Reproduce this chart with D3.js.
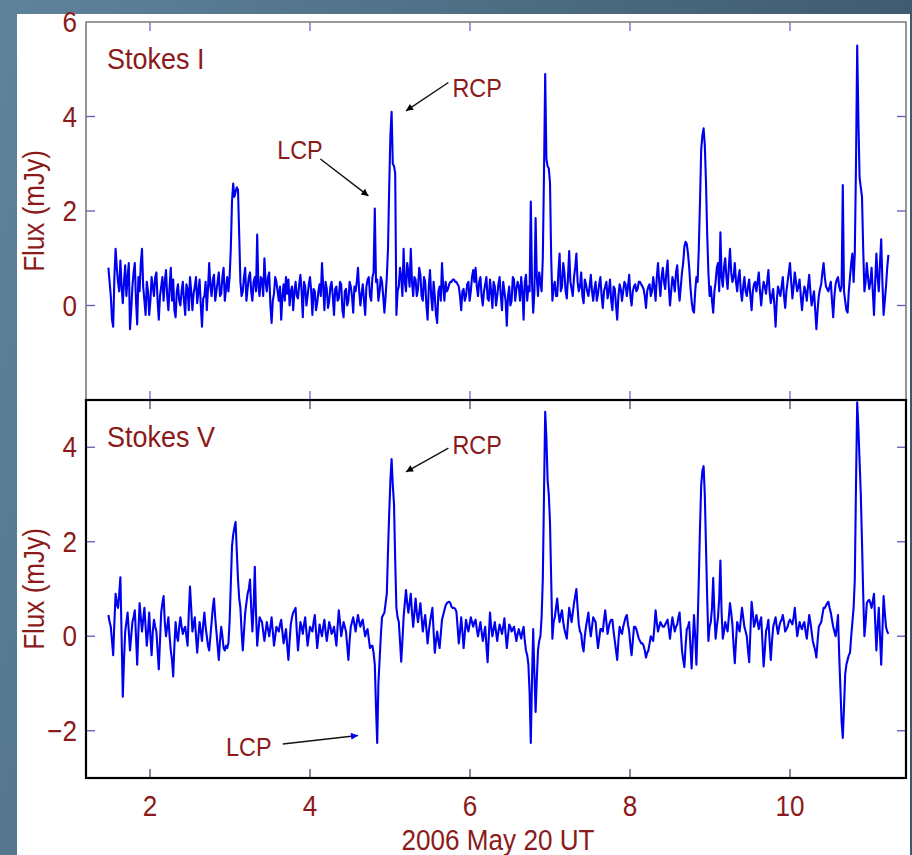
<!DOCTYPE html>
<html><head><meta charset="utf-8">
<script src="https://cdn.jsdelivr.net/npm/d3@7"></script>
<style>html,body{margin:0;padding:0;background:#4a6a82;}svg{display:block;}</style>
</head><body>
<svg id="chart" width="912" height="855"></svg>
<script>
// Sampling cadence of the light curves (hours UT): main samples at start + i*step,
// interleaved samples at start + step/2 + j*step
const sampleStart = 1.48;
const sampleStep = 0.03;

// Stokes I flux (mJy), main samples
const stokesI = [
0.8,0.2,-0.45,1.2,0.5,0.95,0.05,0.85,0.6,-0.5,
0.4,0.9,-0.4,0.3,1.2,0.1,0.5,-0.2,0.6,0.2,
0.7,-0.3,0.4,0.1,0.75,-0.1,0.8,0.55,-0.25,0.45,
0.0,0.5,-0.2,0.35,0.6,-0.1,0.4,0.05,0.55,-0.45,
0.2,-0.1,0.9,0.2,0.65,0.3,0.7,0.25,0.8,0.35,
0.3,1.2,2.58,2.4,2.45,0.5,0.3,0.8,0.35,0.7,
0.1,0.6,1.5,0.2,0.55,1.0,0.3,0.7,-0.37,0.25,
0.5,0.1,-0.3,0.45,0.6,0.55,0.3,-0.1,0.5,0.15,
0.65,-0.25,0.4,0.2,0.6,-0.2,0.3,0.05,0.45,0.9,
-0.1,0.35,0.1,0.5,-0.2,0.4,0.15,0.45,-0.25,0.35,
0.1,0.4,-0.15,0.3,0.8,0.0,0.45,-0.2,0.55,0.2,
0.6,2.05,0.55,0.3,0.5,-0.15,0.6,2.5,4.1,2.95,
-0.2,0.4,0.6,1.2,0.3,0.7,1.2,0.2,0.55,0.35,
0.65,0.1,0.5,-0.3,0.75,-0.1,0.2,-0.37,0.4,0.9,
0.1,0.3,0.45,0.5,0.55,0.5,0.4,-0.1,0.35,0.2,
0.5,0.3,0.75,0.8,0.2,0.6,0.0,0.45,0.15,0.55,
-0.05,0.4,0.2,0.6,-0.1,0.3,-0.43,0.4,0.1,0.55,
0.35,0.4,0.6,-0.3,0.65,0.4,2.2,-0.15,1.85,0.2,
0.5,1.0,4.9,2.95,2.6,0.1,0.5,0.2,1.1,0.4,
0.7,0.15,1.15,0.35,0.6,1.1,0.3,0.7,0.05,0.45,
0.2,0.65,0.1,0.5,0.25,0.6,-0.05,0.4,0.15,0.55,
-0.1,0.35,-0.3,0.45,0.1,0.5,0.2,0.65,0.0,0.4,
0.3,0.5,0.45,0.35,-0.05,0.4,0.2,0.6,0.1,0.9,
0.2,0.8,0.35,0.95,0.0,0.6,0.3,0.85,0.1,0.7,
1.25,1.3,0.8,0.1,-0.15,0.6,1.2,3.3,3.75,2.6,
0.7,0.4,-0.15,0.5,0.9,1.55,0.4,1.0,0.35,1.2,
0.5,0.9,0.3,0.75,0.1,0.6,0.2,0.55,-0.1,0.45,
0.3,0.7,0.0,0.5,0.25,0.75,0.05,0.35,-0.45,0.4,
0.2,0.6,-0.05,0.5,0.9,0.15,0.7,0.3,0.55,-0.1,
0.4,0.1,0.65,0.0,0.3,-0.5,0.2,0.45,0.9,0.4,
0.3,0.5,-0.25,0.45,0.6,0.3,2.55,0.1,-0.15,0.6,
1.1,1.1,5.5,2.7,2.3,0.3,0.9,0.35,0.8,-0.2,
1.1,0.3,1.4,-0.2,0.4,1.07
];
// Stokes I flux (mJy), interleaved samples
const stokesIMid = [
0.5,-0.3,0.6,0.8,0.3,0.4,0.5,0.2,0.9,-0.1,
0.7,0.1,0.6,0.9,0.4,-0.2,0.3,0.1,0.4,0.6,
0.1,0.2,0.6,0.5,0.2,0.4,0.1,-0.1,0.3,0.1,
0.3,0.1,0.45,-0.1,0.3,0.25,0.6,0.3,0.0,0.15,
0.5,0.35,0.4,0.55,0.1,0.5,0.2,0.6,0.1,0.6,
0.6,2.2,2.3,2.5,1.5,0.2,0.6,0.1,0.6,0.3,
0.5,0.3,0.4,0.6,0.2,0.5,0.6,0.0,0.1,0.6,
0.3,0.4,0.2,0.1,0.25,0.0,0.4,0.3,0.2,0.45,
0.3,0.5,0.0,0.45,0.3,0.35,-0.1,0.3,0.2,0.4,
0.5,-0.05,0.4,0.2,0.35,0.1,0.5,-0.1,0.3,0.0,
0.5,0.2,0.4,0.5,0.3,0.25,0.1,0.4,0.6,0.1,
0.7,0.5,0.1,0.6,0.2,0.2,1.2,3.6,3.0,2.8,
0.3,0.8,0.2,0.5,0.9,0.4,0.5,0.6,0.2,0.8,
0.2,0.6,0.0,0.4,0.2,0.5,-0.2,0.3,0.1,0.4,
0.5,0.35,0.5,0.55,0.5,0.45,0.2,0.3,0.1,0.45,
0.1,0.6,0.5,0.4,0.5,0.2,0.3,0.6,0.1,0.3,
0.5,0.0,0.45,0.2,0.5,0.1,0.2,0.0,0.6,0.1,
0.5,0.1,0.3,0.5,0.1,0.3,0.5,0.3,0.6,0.7,
0.3,2.8,3.1,2.9,1.0,0.4,0.2,0.7,0.3,0.9,
0.3,0.6,0.5,0.2,0.8,0.5,0.4,0.2,0.55,0.3,
0.4,0.3,0.35,0.1,0.45,0.2,0.3,0.5,0.3,0.1,
0.4,0.0,0.2,0.35,0.3,0.45,0.4,0.2,0.3,0.45,
0.35,0.5,0.4,0.2,0.3,0.45,0.3,0.4,0.6,0.5,
0.6,0.5,0.7,0.4,0.3,0.5,0.7,0.4,0.4,0.9,
1.35,1.1,0.4,-0.1,0.3,0.5,2.2,3.6,3.4,1.5,
0.2,0.1,0.3,0.8,0.3,0.6,0.8,0.6,0.8,0.7,
0.6,0.5,0.6,0.3,0.4,0.3,0.4,0.2,0.3,0.5,
0.5,0.3,0.3,0.4,0.5,0.3,0.2,0.0,0.1,0.3,
0.4,0.2,0.3,0.7,0.5,0.4,0.5,0.4,0.2,0.2,
0.3,0.4,0.3,0.15,-0.1,-0.1,0.35,0.7,0.6,0.35,
0.4,0.1,0.2,0.55,0.4,0.4,0.3,-0.1,0.3,0.9,
0.5,3.0,3.9,2.5,1.2,0.5,0.6,0.5,0.3,0.5,
0.6,0.9,0.5,0.1,0.8
];

// Stokes V flux (mJy), main samples
const stokesV = [
0.45,0.2,-0.4,0.9,0.6,1.25,-1.28,0.1,0.5,-0.3,
0.3,0.55,-0.6,0.7,0.1,0.6,-0.2,0.5,-0.4,0.35,
0.1,-0.7,0.5,0.85,0.0,0.4,-0.3,-0.85,0.3,-0.1,
0.4,0.05,0.2,-0.2,1.05,0.1,0.4,-0.35,0.3,-0.1,
0.5,0.0,-0.3,0.3,0.8,0.1,-0.5,0.2,-0.25,-0.2,
-0.15,1.1,2.15,2.42,1.2,0.6,-0.3,0.5,0.9,1.2,
0.1,1.47,-0.2,0.4,0.3,-0.1,0.3,0.0,0.4,-0.2,
0.2,0.1,0.35,-0.15,0.15,-0.5,0.25,0.5,0.6,-0.3,
0.3,0.05,0.4,-0.2,0.2,0.1,0.45,-0.25,0.25,0.0,
0.35,-0.1,0.3,0.05,0.2,-0.2,0.55,0.0,0.3,0.1,
-0.5,0.2,0.4,0.1,0.45,0.2,0.35,0.0,0.15,-0.25,
-0.2,-0.6,-2.26,-0.5,0.4,0.5,0.9,2.6,3.75,2.8,
0.6,0.3,-0.54,0.4,0.98,0.5,0.9,0.2,0.8,0.3,
0.7,0.1,0.45,-0.15,0.3,0.6,-0.35,0.1,-0.25,0.35,
0.55,0.7,0.73,0.62,0.6,0.52,-0.15,0.4,-0.25,0.35,
0.1,0.4,0.2,0.35,0.0,0.3,-0.1,0.2,-0.55,0.5,
0.0,0.3,-0.1,0.25,0.05,0.38,-0.25,0.25,0.1,0.2,
-0.1,0.15,-0.05,0.2,-0.3,-0.6,-2.26,0.15,-1.6,-0.3,
0.0,1.2,4.75,3.3,2.4,-0.05,0.4,0.8,0.3,0.55,
0.15,-0.05,0.6,0.3,0.7,1.0,0.25,0.05,-0.32,0.2,
0.5,0.0,0.4,0.3,-0.25,0.15,0.1,0.55,0.05,0.3,
0.35,-0.1,-0.5,0.2,0.05,0.3,0.45,0.1,-0.4,0.2,
0.15,-0.05,-0.15,-0.2,-0.45,-0.3,0.0,-0.1,0.55,0.1,
0.3,0.2,0.25,0.35,-0.05,0.4,0.1,0.25,0.5,-0.3,
-0.65,0.15,0.3,-0.68,0.45,-0.6,1.2,3.2,3.6,1.9,
-0.1,0.3,1.23,-0.05,0.4,1.6,-0.05,0.3,0.1,0.7,
0.25,-0.57,0.3,0.1,0.6,0.2,0.0,-0.55,0.73,0.2,
0.45,0.15,0.4,-0.64,0.1,0.35,-0.5,0.2,0.4,0.05,
0.3,0.45,0.1,0.2,0.35,0.25,0.6,0.0,0.3,0.15,
0.3,-0.05,0.45,0.1,-0.2,-0.45,0.2,0.3,0.6,0.65,
0.73,0.5,0.2,0.0,0.45,-1.1,-2.15,-0.8,-0.5,-0.35,
0.3,1.2,4.95,3.7,2.0,0.0,0.7,0.77,0.6,0.9,
-0.3,0.6,-0.6,0.85,0.2,0.05
];
// Stokes V flux (mJy), interleaved samples
const stokesVMid = [
0.3,-0.1,0.3,0.7,0.9,0.0,-0.5,0.3,0.1,0.0,
0.4,0.0,0.1,0.4,0.35,0.2,0.1,0.0,0.1,0.2,
-0.3,-0.1,0.7,0.3,0.2,0.0,-0.5,-0.2,0.0,0.2,
0.2,0.15,0.0,0.5,0.6,0.25,0.0,0.0,0.1,0.25,
0.2,-0.2,0.0,0.6,0.4,-0.2,-0.1,0.0,-0.3,-0.25,
0.3,1.9,2.3,1.8,0.8,0.1,0.1,0.7,1.0,0.6,
0.6,0.5,0.1,0.35,0.1,0.1,0.15,0.2,0.1,0.0,
0.15,0.25,0.1,0.0,-0.2,-0.1,0.4,0.55,0.1,0.0,
0.2,0.25,0.1,0.0,0.15,0.3,0.1,0.0,0.1,0.2,
0.1,0.1,0.2,0.1,0.0,0.2,0.3,0.15,0.2,-0.2,
-0.1,0.3,0.25,0.3,0.3,0.3,0.15,0.1,-0.05,-0.2,
-0.35,-1.5,-1.0,0.0,0.45,0.7,1.8,3.3,3.2,1.6,
0.4,-0.1,-0.1,0.7,0.7,0.7,0.5,0.5,0.5,0.5,
0.4,0.3,0.15,0.1,0.45,0.1,-0.1,-0.1,0.05,0.45,
0.65,0.72,0.7,0.6,0.58,0.2,0.1,0.1,0.05,0.2,
0.25,0.3,0.3,0.15,0.15,0.1,0.05,-0.2,0.0,0.2,
0.15,0.1,0.1,0.15,0.2,0.05,0.0,0.2,0.15,0.05,
0.05,0.05,0.1,-0.1,-0.4,-1.2,-0.9,-0.8,-0.9,-0.1,
0.4,3.0,4.2,3.0,1.2,0.3,0.6,0.5,0.45,0.3,
0.05,0.3,0.45,0.5,0.85,0.6,0.1,-0.2,0.0,0.35,
0.2,0.2,0.35,0.0,-0.05,0.15,0.35,0.3,0.2,0.35,
0.1,-0.3,-0.1,0.1,0.2,0.4,0.25,-0.2,-0.1,0.2,
0.05,-0.1,-0.15,-0.3,-0.35,-0.15,-0.05,0.2,0.3,0.2,
0.25,0.2,0.3,0.15,0.2,0.25,0.2,0.4,0.1,-0.5,
-0.2,0.2,-0.2,-0.1,0.0,0.2,2.3,3.5,3.0,0.8,
0.2,0.6,0.5,0.2,0.8,0.5,0.1,0.2,0.4,0.5,
-0.2,-0.1,0.2,0.35,0.4,0.1,-0.3,0.1,0.5,0.3,
0.3,0.3,-0.1,-0.3,0.2,-0.1,-0.1,0.3,0.2,0.2,
0.35,0.3,0.15,0.3,0.3,0.4,0.3,0.15,0.2,0.25,
0.1,0.2,0.3,-0.1,-0.3,-0.1,0.25,0.45,0.6,0.7,
0.6,0.35,0.1,0.2,-0.4,-1.8,-1.5,-0.6,-0.4,0.0,
0.6,3.2,4.4,3.0,0.9,0.3,0.75,0.7,0.75,0.3,
0.2,0.0,0.1,0.5,0.1
];

// Axis ticks and labels
const xTicks = [2, 4, 6, 8, 10];
const yTicksI = [-2, 0, 2, 4, 6];
const yTicksV = [-2, 0, 2, 4];
const yLabelsI = [0, 2, 4, 6];
const yLabelsV = [-2, 0, 2, 4];
const xDomain = [1.2, 11.45];
const yDomainI = [-2, 6];
const yDomainV = [-3, 5];
const panelTitles = ["Stokes I", "Stokes V"];
const xTitle = "2006 May 20 UT";
const yTitle = "Flux (mJy)";

// Annotations (data coordinates)
const annotI = [
  {label: "RCP", tx: 5.78, ty: 4.42, x1: 5.73, y1: 4.72, x2: 5.2, y2: 4.12},
  {label: "LCP", tx: 3.59, ty: 3.1, x1: 4.13, y1: 3.1, x2: 4.73, y2: 2.32}
];
const annotV = [
  {label: "RCP", tx: 5.78, ty: 3.85, x1: 5.73, y1: 3.98, x2: 5.2, y2: 3.48},
  {label: "LCP", tx: 2.95, ty: -2.53, x1: 3.66, y1: -2.28, x2: 4.6, y2: -2.1, blueHead: true}
];

const svg = d3.select("#chart");
const W = 912, H = 855;
const maroon = "#8b1a1a";
const font = "'Liberation Sans', Arial, sans-serif";
const sx = 0.9;

const defs = svg.append("defs");
const bg = defs.append("linearGradient").attr("id", "bg").attr("x1", "0").attr("x2", "1").attr("y1", "0").attr("y2", "0.3");
bg.append("stop").attr("offset", "0").attr("stop-color", "#5f839b");
bg.append("stop").attr("offset", "1").attr("stop-color", "#3c586d");
["#000", "#0000ff"].forEach((c, i) => {
  defs.append("marker").attr("id", "ah" + i).attr("viewBox", "0 0 10 10")
    .attr("refX", 10).attr("refY", 5).attr("markerWidth", 10).attr("markerHeight", 7)
    .attr("markerUnits", "userSpaceOnUse").attr("orient", "auto")
    .append("path").attr("d", "M0,0L10,5L0,10z").attr("fill", c);
});

svg.append("rect").attr("width", W).attr("height", H).attr("fill", "url(#bg)");
svg.append("rect").attr("x", 17).attr("y", 14).attr("width", 893).attr("height", H - 14).attr("fill", "#fff");

const x = d3.scaleLinear().domain(xDomain).range([86, 906]);
const yI = d3.scaleLinear().domain(yDomainI).range([400, 22]);
const yV = d3.scaleLinear().domain(yDomainV).range([778, 400]);

function merge(main, mid) {
  const pts = [];
  main.forEach((v, i) => {
    pts.push({t: sampleStart + i * sampleStep, v});
    if (i < mid.length) pts.push({t: sampleStart + (i + 0.5) * sampleStep, v: mid[i]});
  });
  return pts;
}

function label(parent, px, py, str, size, anchor, rot) {
  const g = parent.append("g").attr("transform", `translate(${px},${py})${rot ? " rotate(" + rot + ")" : ""} scale(${sx},1)`);
  g.append("text").attr("text-anchor", anchor || "start").attr("fill", maroon)
    .attr("font-family", font).attr("font-size", size).text(str);
  return g;
}

function panel(points, y, yTicks, yLabels, title, annots, idx) {
  const g = svg.append("g");
  const [y0, y1] = y.range();
  const clipId = "clip" + idx;
  defs.append("clipPath").attr("id", clipId).append("rect")
    .attr("x", x.range()[0]).attr("y", y1).attr("width", x.range()[1] - x.range()[0]).attr("height", y0 - y1);

  const tickCol = idx === 0 ? "#6a6ad8" : "#4a4a6a";
  xTicks.forEach(t => {
    g.append("line").attr("x1", x(t)).attr("x2", x(t)).attr("y1", y1).attr("y2", y1 + 9)
      .attr("stroke", tickCol).attr("stroke-width", 1.3);
    g.append("line").attr("x1", x(t)).attr("x2", x(t)).attr("y1", y0).attr("y2", y0 - 9)
      .attr("stroke", tickCol).attr("stroke-width", 1.3);
  });
  yTicks.forEach(v => {
    if (y(v) <= y1 + 1 || y(v) >= y0 - 1) return;
    g.append("line").attr("x1", x.range()[0]).attr("x2", x.range()[0] + 9).attr("y1", y(v)).attr("y2", y(v))
      .attr("stroke", "#5a5ab8").attr("stroke-width", 1.3);
    g.append("line").attr("x1", x.range()[1]).attr("x2", x.range()[1] - 9).attr("y1", y(v)).attr("y2", y(v))
      .attr("stroke", "#5a5ab8").attr("stroke-width", 1.3);
  });

  const line = d3.line().x(d => x(d.t)).y(d => y(d.v));
  g.append("path").datum(points).attr("clip-path", `url(#${clipId})`)
    .attr("d", line).attr("fill", "none").attr("stroke", "#0000f0")
    .attr("stroke-width", 2.1).attr("stroke-linejoin", "round");

  yLabels.forEach(v => {
    label(g, 77, y(v) + 10, v < 0 ? "\u2212" + Math.abs(v) : String(v), 29, "end");
  });
  label(g, 44, (y0 + y1) / 2, yTitle, 29, "middle", -90);
  label(g, 107, y1 + 47, title, 30, "start");

  annots.forEach(a => {
    label(g, x(a.tx), y(a.ty), a.label, 26, "start");
    g.append("line").attr("x1", x(a.x1)).attr("y1", y(a.y1)).attr("x2", x(a.x2)).attr("y2", y(a.y2))
      .attr("stroke", "#111").attr("stroke-width", 1.4)
      .attr("marker-end", `url(#ah${a.blueHead ? 1 : 0})`);
  });
  return g;
}

panel(merge(stokesI, stokesIMid), yI, yTicksI, yLabelsI, panelTitles[0], annotI, 0);
panel(merge(stokesV, stokesVMid), yV, yTicksV, yLabelsV, panelTitles[1], annotV, 1);

const xl = x.range()[0], xr = x.range()[1];
svg.append("path").attr("d", `M${xl},400V22H${xr}V400`).attr("fill", "none")
  .attr("stroke", "#7a7a7a").attr("stroke-width", 1.6);
svg.append("rect").attr("x", xl).attr("y", 400).attr("width", xr - xl).attr("height", 378)
  .attr("fill", "none").attr("stroke", "#000").attr("stroke-width", 2.2);

xTicks.forEach(t => label(svg, x(t), 816, String(t), 29, "middle"));
label(svg, 498, 850, xTitle, 29, "middle");
</script>
</body></html>
